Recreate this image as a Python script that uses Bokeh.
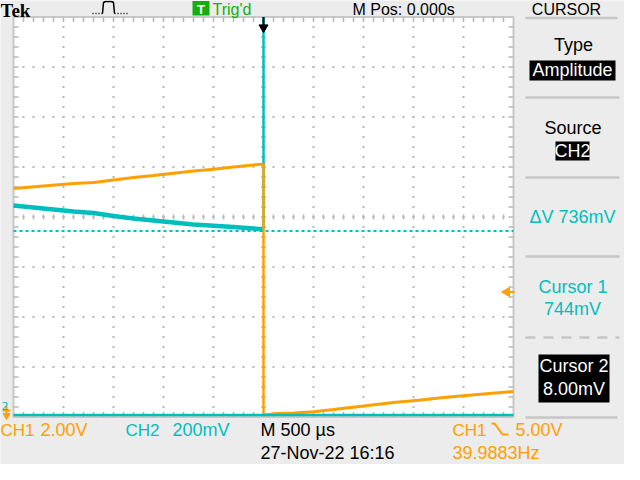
import numpy as np
from bokeh.plotting import figure
from bokeh.models import Range1d
from bokeh.core.properties import value
from bokeh.embed import file_html
from bokeh.resources import INLINE

# ---------------- data ----------------
ch1_t_pre = [-2.5, -2.2, -1.9, -1.7, -1.5, -1.3, -1.1, -0.9, -0.7, -0.5, -0.3, -0.1, 0.0]      # ms
ch1_v_pre = [9.14, 9.24, 9.34, 9.38, 9.48, 9.58, 9.66, 9.75, 9.84, 9.91, 10.00, 10.08, 10.12]  # V
ch1_t_post = [0.0, 0.14, 0.3, 0.5, 0.7, 1.0, 1.3, 1.55, 1.8, 2.0, 2.2, 2.5]
ch1_v_post = [0.08, 0.14, 0.16, 0.21, 0.30, 0.44, 0.58, 0.67, 0.78, 0.85, 0.92, 1.02]
ch2_t_pre = [-2.5, -2.2, -1.9, -1.7, -1.5, -1.3, -1.1, -0.9, -0.7, -0.5, -0.3, -0.1, 0.0]
ch2_v_pre = [0.846, 0.834, 0.822, 0.816, 0.804, 0.794, 0.786, 0.778, 0.770, 0.765, 0.760, 0.754, 0.750]
ch2_t_post = [0.0]
ch2_v_post = [1.70]          # off screen (above top)
ch1_volts_per_div = 2.0
ch2_volts_per_div = 0.2
time_per_div = 0.5           # ms
n_hdiv, n_vdiv = 10, 8
cursor1_v = 0.744
cursor2_v = 0.008
trig_level_v = 5.00
trig_time = 0.0

# ---------------- colours ----------------
BG = "#ECECEC"
ORANGE = "#FFA000"
CYAN = "#00BEBE"
GREEN = "#10B010"
GRID = "#B8B8B8"
SEP = "#C6C6C6"

# reference-pixel -> data helpers (screen is 50 px per division)
def X(px):
    return (px - 271) / 100.0

def Y(py):
    return (424.5 - py) / 50.0

half_t = n_hdiv * time_per_div / 2

p = figure(width=624, height=464, x_range=Range1d(X(8), X(632)), y_range=Range1d(Y(472), Y(8)),
           x_axis_type=None, y_axis_type=None, toolbar_location=None, output_backend="svg",
           min_border=0, background_fill_color=BG, border_fill_color=BG, outline_line_color=None)

# ---- graticule ----
p.quad(left=-half_t, right=half_t, bottom=0, top=n_vdiv, fill_color="white",
       line_color="#C8C8C8", line_width=2)

dx, dy = [], []
for k in range(1, n_hdiv):
    xk = -half_t + k * time_per_div
    for j in range(1, n_vdiv * 5):
        dx.append(xk); dy.append(j * 0.2)
for m in range(1, n_vdiv):
    for i in range(1, n_hdiv * 5):
        dx.append(-half_t + i * time_per_div / 5); dy.append(m)
p.scatter(dx, dy, marker="square", size=2, color=GRID, line_color=None)

tx0, tx1, ty0, ty1 = [], [], [], []
for i in range(1, n_hdiv * 5):
    xx = -half_t + i * time_per_div / 5
    for (a, b) in [(n_vdiv, n_vdiv - 0.1), (0, 0.1), (n_vdiv / 2 - 0.05, n_vdiv / 2 + 0.05)]:
        tx0.append(xx); tx1.append(xx); ty0.append(a); ty1.append(b)
for j in range(1, n_vdiv * 5):
    yy = j * 0.2
    for (a, b) in [(-half_t, -half_t + 0.05), (half_t, half_t - 0.05), (-0.025, 0.025)]:
        tx0.append(a); tx1.append(b); ty0.append(yy); ty1.append(yy)
p.segment(x0=tx0, y0=ty0, x1=tx1, y1=ty1, color=GRID, line_width=1.5)

# ---- traces ----
ch2_y_pre = np.array(ch2_v_pre) / ch2_volts_per_div
ch2_y_post = np.minimum(np.array(ch2_v_post) / ch2_volts_per_div, n_vdiv)
p.line(ch2_t_pre, ch2_y_pre, color=CYAN, line_width=4.5, line_join="round")
p.line([ch2_t_pre[-1], ch2_t_post[0]], [ch2_y_pre[-1], ch2_y_post[0]], color=CYAN, line_width=2.5)

ch1_y_pre = np.array(ch1_v_pre) / ch1_volts_per_div
ch1_y_post = np.array(ch1_v_post) / ch1_volts_per_div
p.line(ch1_t_pre, ch1_y_pre, color=ORANGE, line_width=3)
p.line([ch1_t_pre[-1], ch1_t_post[0]], [ch1_y_pre[-1], ch1_y_post[0]], color=ORANGE, line_width=2.5)
p.line(ch1_t_post, ch1_y_post, color=ORANGE, line_width=3)

# ---- cursors ----
p.line([-half_t, half_t], [cursor1_v / ch2_volts_per_div] * 2, color=CYAN, line_width=2, line_dash="3 3")
p.line([-half_t, half_t], [cursor2_v / ch2_volts_per_div] * 2, color=CYAN, line_width=2.5)

# ---- markers ----
p.segment(x0=[trig_time], y0=[n_vdiv], x1=[trig_time], y1=[Y(33)], color="black", line_width=2)
p.scatter([trig_time], [Y(35)], marker="inverted_triangle", size=9, color="black")
tl = trig_level_v / ch1_volts_per_div
p.patch([X(509), X(517), X(517)], [tl, tl + 0.09, tl - 0.09], color=ORANGE, line_color=ORANGE)
p.segment(x0=[X(516)], y0=[tl], x1=[X(522)], y1=[tl], color=ORANGE, line_width=2)
p.segment(x0=[X(14)], y0=[Y(414)], x1=[X(14)], y1=[Y(421)], color=ORANGE, line_width=2)
p.segment(x0=[X(10)], y0=[Y(418)], x1=[X(18)], y1=[Y(418)], color=ORANGE, line_width=2)
p.scatter([X(14)], [Y(423)], marker="inverted_triangle", size=7, color=ORANGE)


def txt(px, py, s, color="black", size=18, align="left", font="Liberation Sans", style="normal"):
    # py is the baseline in reference pixels; place by the middle of the text box
    p.text(x=[X(px)], y=[Y(py - 0.35 * size)], text=[s], text_color=color, text_font=value(font),
           text_font_size=f"{size}px", text_align=align, text_baseline="middle",
           text_font_style=style)


def box(l, r, t, b, color="black"):
    p.quad(left=X(l), right=X(r), top=Y(t), bottom=Y(b), fill_color=color, line_color=None)


def hsep(py, dash="solid"):
    p.line([X(533), X(627)], [Y(py), Y(py)], color=SEP, line_width=2.5, line_dash=dash)


txt(9, 417, "2", CYAN, 11, font="DejaVu Sans")

# ---- header ----
txt(8, 24.5, "Tek", "black", 19, font="Liberation Serif", style="bold")
p.line([X(100), X(110)], [Y(21), Y(21)], color="black", line_width=1.5, line_dash="1 2")
p.line([X(110), X(111), X(113), X(119), X(121), X(122)],
       [Y(21), Y(10), Y(9), Y(9), Y(10), Y(21)], color="black", line_width=1.5)
p.line([X(122), X(137)], [Y(21), Y(21)], color="black", line_width=1.5, line_dash="1 2")
box(200, 217, 8.5, 23, GREEN)
txt(208.5, 21.5, "T", "white", 13, align="center", style="bold")
txt(220, 23, "Trig'd", GREEN, 16)
txt(360, 23, "M Pos: 0.000s", "black", 16)
txt(574, 23, "CURSOR", "black", 16, align="center")
p.line([X(533), X(625)], [Y(25.5), Y(25.5)], color=SEP, line_width=2.5)

# ---- right menu ----
txt(581, 58.5, "Type", "black", 18, align="center")
box(537, 623, 68, 88)
txt(580, 84, "Amplitude", "white", 18, align="center")
hsep(105)
txt(580.5, 142, "Source", "black", 18, align="center")
box(563, 597, 149, 168)
txt(580, 165, "CH2", "white", 18, align="center")
hsep(185)
txt(580, 231, "\u0394V 736mV", CYAN, 18, align="center")
hsep(264)
txt(580.5, 301, "Cursor 1", CYAN, 18, align="center")
txt(580, 323, "744mV", CYAN, 18, align="center")
hsep(345, "10 8")
box(546, 617, 362, 410)
txt(581.5, 380, "Cursor 2", "white", 18, align="center")
txt(581.5, 403, "8.00mV", "white", 18, align="center")
p.line([X(533), X(625)], [Y(425), Y(425)], color=SEP, line_width=2.5)

# ---- bottom readouts ----
txt(8, 444, "CH1", ORANGE, 17)
txt(48, 444, "2.00V", ORANGE, 18)
txt(133, 444, "CH2", CYAN, 17)
txt(180, 444, "200mV", CYAN, 18)
txt(268, 444, "M 500 \u00b5s", "black", 18)
txt(268, 467, "27-Nov-22 16:16", "black", 18)
txt(460, 444, "CH1", ORANGE, 17)
p.line([X(499), X(502), X(510), X(516)], [Y(431), Y(431), Y(442), Y(442)], color=ORANGE, line_width=2)
txt(523, 444, "5.00V", ORANGE, 18)
txt(460, 467, "39.9883Hz", ORANGE, 18)

open("out.html", "w").write(file_html(p, INLINE))
